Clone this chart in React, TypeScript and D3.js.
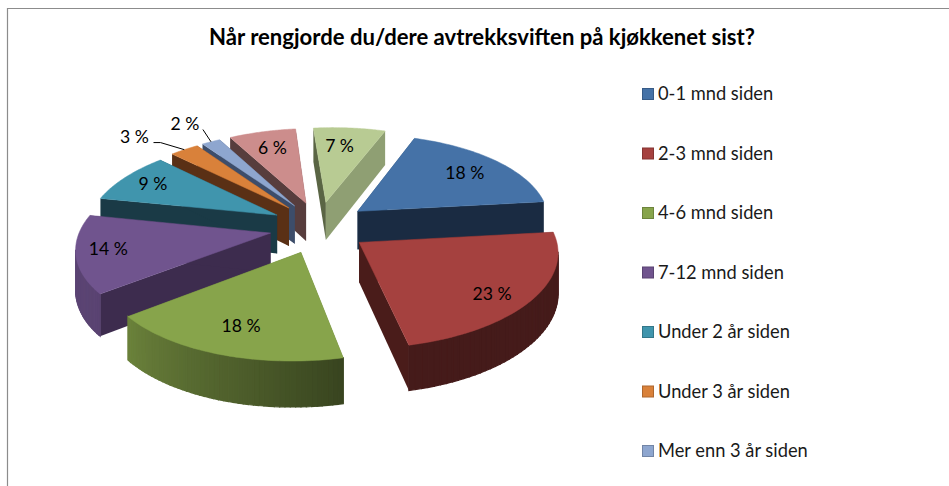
import React from 'react';
import * as d3 from 'd3';

const title = 'Når rengjorde du/dere avtrekksviften på kjøkkenet sist?';
const legendLabels = [
  '0-1 mnd siden',
  '2-3 mnd siden',
  '4-6 mnd siden',
  '7-12 mnd siden',
  'Under 2 år siden',
  'Under 3 år siden',
  'Mer enn 3 år siden',
];
// shares, the labels show them rounded
const sliceValues = [18, 23, 18, 14, 9, 2.8, 1.8, 6.45, 6.95];

const topColors = ['#4572a7', '#a5413f', '#87a44b', '#70548e', '#4095ad', '#d9813a', '#8ea6cf', '#cc8d8c', '#b8cb93'];
const startWallColors = ['#26405e', '#4a1c1a', '#5c7033', '#3d2c4e', '#1a3a46', '#5a3015', '#3d4d6a', '#573d3d', '#5a6544'];
const endWallColors = ['#1a2b42', '#4a1c1a', '#5c7033', '#3d2c4e', '#1a3a46', '#5a3015', '#3d4d6a', '#573d3d', '#8f9f73'];
const swatchStrokes = ['#375b87', '#853432', '#6d843c', '#5a4372', '#337789', '#ae672e', '#7285a6'];

// label placement: distance from the slice apex (in radii) and a small angle nudge (degrees)
const labelRadius = [0.76, 0.82, 0.75, 0.835, 0.81, 1.36, 1.33, 0.75, 0.74];
const labelNudge = [0, 4, 0, 2, 0, -5, -0.5, 0, -2];

const width = 949;
const height = 486;
const cx = 319;
const cy = 227.1;
const radiusX = 192;
const radiusY = 89;
const perspective = 0.12;
const explodeX = 0.256;
const explodeU = 0.29;
const depth = 39;
const startDeg = 22;
// the reference pie is seen slightly turned and rolled
const skew = 3.5;
const roll = 5;

type Pt = [number, number];
const rad = (d: number) => (d * Math.PI) / 180;

// unit ground plane -> screen, far things get smaller
function project(x: number, u: number, z = 0): Pt {
  const s = 1 / (1 + perspective * u);
  return [cx + (radiusX * x - skew * u) * s, cy + (depth * z - radiusY * u - roll * x) * s];
}

const pie = d3
  .pie<number>()
  .sort(null)
  .startAngle(rad(startDeg))
  .endAngle(rad(startDeg) + Math.PI * 2);

const arcShade = d3.scaleLinear().domain([90, 170, 236, 290]).range([0.42, 0.42, 0.8, 0.85]).clamp(true);
const legendY = d3.scalePoint<string>().domain(legendLabels).range([94, 451]);
const poly = d3.line();

function wrapDeg(a: number) {
  return ((a % 360) + 360) % 360;
}

export default function App() {
  const arcs = pie(sliceValues);

  const slices = arcs.map((a, i) => {
    const mid = (a.startAngle + a.endAngle) / 2;
    const ox = explodeX * Math.sin(mid);
    const ou = explodeU * Math.cos(mid);
    const at = (t: number, z = 0, r = 1) => project(ox + r * Math.sin(t), ou + r * Math.cos(t), z);
    const steps = d3.range(0, 49).map((k) => a.startAngle + ((a.endAngle - a.startAngle) * k) / 48);
    const apex = project(ox, ou);
    const apexLow = project(ox, ou, 1);
    const top = [apex, ...steps.map((t) => at(t))] as Pt[];
    // only the part of the rim that turns towards the viewer gets a wall
    const strips = steps
      .slice(1)
      .map((t, k) => ({ t0: steps[k], t }))
      .filter(({ t0, t }) => at(t)[0] < at(t0)[0])
      .map(({ t0, t }) => {
        const base = d3.rgb(topColors[i]);
        const f = arcShade(wrapDeg((((t0 + t) / 2) * 180) / Math.PI));
        return {
          d: poly([at(t0), at(t), at(t, 1), at(t0, 1)]) + 'Z',
          fill: d3.rgb(base.r * f, base.g * f, base.b * f).formatHex(),
        };
      });
    const startWall = poly([apex, at(a.startAngle), at(a.startAngle, 1), apexLow]) + 'Z';
    const endWall = poly([apex, at(a.endAngle), at(a.endAngle, 1), apexLow]) + 'Z';
    const labelAt = mid + rad(labelNudge[i]);
    const label = at(labelAt, 0, labelRadius[i]);
    return { i, mid, top: poly(top) + 'Z', strips, startWall, endWall, label, arcPoint: at(mid), at };
  });

  // far slices first so the near ones paint over them
  const ordered = [...slices].sort((p, q) => Math.cos(q.mid) - Math.cos(p.mid));

  const orange = slices[5];
  const blueGrey = slices[6];

  return (
    <svg
      width={width}
      height={height}
      style={{ position: 'absolute', left: 0, top: 0, background: '#fff' }}
      fontFamily="Lato, 'Open Sans', sans-serif"
    >
      <path d={`M7.5 ${height}V8.5H${width}`} fill="none" stroke="#8c8c8c" strokeWidth={1.2} />
      <text x={482} y={44.5} textAnchor="middle" fontSize={22.1} fontWeight={700} fill="#000">
        {title}
      </text>

      {ordered.map((s) => (
        <g key={s.i}>
          <path d={s.startWall} fill={startWallColors[s.i]} />
          <path d={s.endWall} fill={endWallColors[s.i]} />
          <g>
            {s.strips.map((st, k) => (
              <path key={k} d={st.d} fill={st.fill} stroke={st.fill} strokeWidth={1.2} />
            ))}
          </g>
          <path d={s.top} fill={topColors[s.i]} stroke={topColors[s.i]} strokeWidth={0.5} />
        </g>
      ))}

      <path
        d={poly([
          [orange.label[0] + 19, orange.label[1] + 6],
          [orange.label[0] + 26, orange.label[1] + 6],
          orange.arcPoint,
        ]) as string}
        fill="none"
        stroke="#000"
        strokeWidth={1}
      />
      <path
        d={poly([[blueGrey.label[0] + 18, blueGrey.label[1] + 6], blueGrey.arcPoint]) as string}
        fill="none"
        stroke="#000"
        strokeWidth={1}
      />

      {slices.map((s) => (
        <text
          key={s.i}
          x={s.label[0]}
          y={s.label[1]}
          dy="0.35em"
          textAnchor="middle"
          fontSize={17.6}
          fill="#000"
        >
          {Math.round(sliceValues[s.i])} %
        </text>
      ))}

      {legendLabels.map((name, i) => (
        <g key={name} transform={`translate(642,${legendY(name)})`}>
          <rect x={0.5} y={-5.5} width={11} height={11} fill={topColors[i]} stroke={swatchStrokes[i]} />
          <text x={16} y={0} dy="0.35em" fontSize={18.3} fill="#1a1a1a">
            {name}
          </text>
        </g>
      ))}
    </svg>
  );
}
